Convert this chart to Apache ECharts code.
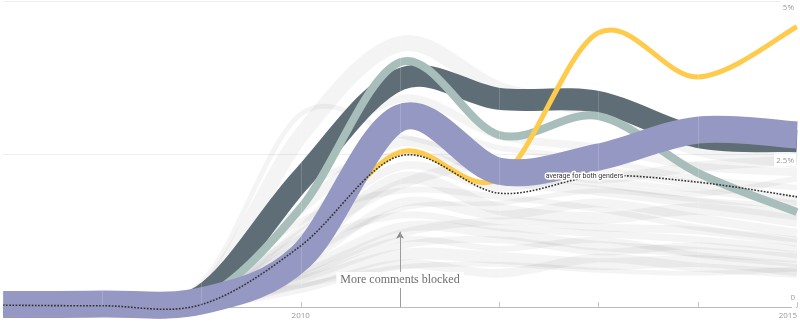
<!DOCTYPE html>
<html>
<head>
<meta charset="utf-8">
<script src="https://cdn.jsdelivr.net/npm/echarts@6/dist/echarts.min.js"></script>
<style>
  html, body { margin: 0; padding: 0; background: #fff; }
  #chart { width: 800px; height: 329px; }
</style>
</head>
<body>
<div id="chart"></div>
<script>
// Years on the x axis
const years = [2007, 2008, 2009, 2010, 2011, 2012, 2013, 2014, 2015];

// Share of comments blocked (%), highlighted groups
const darkBand   = [0.05, 0.05, 0.18, 2.08, 3.72, 3.40, 3.35, 2.78, 2.71];
const tealLine   = [0.04, 0.05, 0.12, 1.62, 4.00, 2.81, 3.12, 2.19, 1.55];
const yellowLine = [0.03, 0.03, 0.10, 0.98, 2.53, 2.10, 4.48, 3.76, 4.58];
const purpleBand = [0.04, 0.05, 0.10, 0.82, 3.09, 2.22, 2.45, 2.89, 2.81];
const average    = [0.03, 0.02, 0.04, 1.00, 2.47, 1.86, 2.14, 2.04, 1.80];

// Every other group, drawn faintly in the background
const backgroundLines = [
  [0.02, 0.03, 0.20, 2.80, 4.30, 3.55, 3.20, 2.60, 2.40],
  [0.02, 0.05, 0.40, 3.15, 2.80, 2.40, 2.10, 1.90, 1.70],
  [0.02, 0.04, 0.15, 2.20, 3.40, 2.80, 2.60, 2.30, 2.20],
  [0.02, 0.03, 0.10, 1.30, 2.90, 2.60, 2.40, 2.10, 1.95],
  [0.02, 0.03, 0.10, 1.60, 2.70, 2.10, 1.90, 1.70, 1.50],
  [0.02, 0.04, 0.15, 1.20, 2.30, 1.95, 2.20, 2.00, 1.75],
  [0.03, 0.03, 0.08, 0.90, 2.10, 1.60, 1.45, 1.60, 1.40],
  [0.02, 0.05, 0.20, 1.40, 1.90, 1.80, 1.60, 1.30, 1.10],
  [0.01, 0.02, 0.06, 0.70, 1.70, 1.50, 1.70, 1.45, 1.20],
  [0.03, 0.04, 0.12, 1.00, 1.50, 1.30, 1.20, 1.10, 0.95],
  [0.02, 0.03, 0.10, 0.60, 1.30, 1.20, 1.00, 0.90, 0.80],
  [0.02, 0.03, 0.09, 0.50, 1.10, 0.95, 1.10, 0.85, 0.70],
  [0.01, 0.02, 0.05, 0.40, 0.85, 0.80, 0.70, 0.75, 0.60],
  [0.02, 0.02, 0.06, 0.35, 0.65, 0.70, 0.60, 0.55, 0.62],
  [0.03, 0.05, 0.25, 1.90, 2.50, 2.20, 2.00, 1.85, 2.10],
  [0.02, 0.04, 0.10, 1.10, 2.00, 2.35, 2.10, 2.30, 2.40],
  [0.02, 0.03, 0.08, 0.80, 1.60, 1.70, 1.90, 1.75, 1.65],
  [0.03, 0.03, 0.07, 0.55, 1.20, 1.40, 1.30, 1.25, 1.05],
  [0.02, 0.03, 0.05, 0.45, 1.00, 1.10, 0.90, 1.00, 0.85],
  [0.01, 0.02, 0.04, 0.30, 0.70, 0.55, 0.80, 0.65, 0.55]
];
const backgroundWidths = [16, 5, 8, 6, 10, 8, 12, 6, 9, 7, 10, 6, 12, 5, 6, 10, 5, 8, 7, 9];

// Axis labels
const yTickLabels = { 5: '5%', 2.5: '2.5%', 0: '0' };
const xTickLabels = [2010, 2015];

const annotationYear = 2011;
const annotationText = 'More comments blocked';
const averageText = 'average for both genders';

const chart = echarts.init(document.getElementById('chart'), null, { renderer: 'canvas' });

// Catmull-Rom curve through pixel points, as SVG path data
function catmullRomPath(pts) {
  let d = 'M' + pts[0][0] + ' ' + pts[0][1];
  for (let i = 0; i < pts.length - 1; i++) {
    const p0 = pts[Math.max(i - 1, 0)];
    const p1 = pts[i];
    const p2 = pts[i + 1];
    const p3 = pts[Math.min(i + 2, pts.length - 1)];
    const c1x = p1[0] + (p2[0] - p0[0]) / 6;
    const c1y = p1[1] + (p2[1] - p0[1]) / 6;
    const c2x = p2[0] - (p3[0] - p1[0]) / 6;
    const c2y = p2[1] - (p3[1] - p1[1]) / 6;
    d += ' C' + c1x + ' ' + c1y + ' ' + c2x + ' ' + c2y + ' ' + p2[0] + ' ' + p2[1];
  }
  return d;
}

// One smooth curve per series, placed through the cartesian scales
function curveSeries(name, values, style) {
  return {
    type: 'custom',
    name: name,
    coordinateSystem: 'cartesian2d',
    silent: true,
    clip: false,
    data: [[years[0], values[0]]],
    renderItem: function (params, api) {
      const pts = values.map((v, i) => api.coord([years[i], v]));
      return {
        type: 'path',
        shape: { pathData: catmullRomPath(pts) },
        style: Object.assign({ fill: null, lineJoin: 'round' }, style)
      };
    }
  };
}

const series = [];
backgroundLines.forEach((vals, i) => {
  series.push(curveSeries('g' + i, vals, {
    stroke: 'rgba(0,0,0,0.042)', lineWidth: backgroundWidths[i]
  }));
});
series.push(curveSeries('dark', darkBand, { stroke: '#5f6e76', lineWidth: 22 }));
series.push(curveSeries('teal', tealLine, { stroke: '#a7bebb', lineWidth: 8 }));
series.push(curveSeries('yellow', yellowLine, { stroke: '#fecb4c', lineWidth: 5 }));
series.push(curveSeries('purple', purpleBand, { stroke: '#9598c2', lineWidth: 27 }));
series.push(curveSeries('average', average, {
  stroke: '#333', lineWidth: 1.6, lineDash: [1.7, 1.5]
}));

// Annotations: arrow for the marked year and the two text labels
series.push({
  type: 'scatter',
  name: 'notes',
  silent: true,
  data: [],
  markLine: {
    silent: true,
    symbol: ['none', 'arrow'],
    symbolSize: [6, 7],
    label: { show: false },
    lineStyle: { color: '#8a8a8a', width: 1, type: 'solid' },
    data: [[{ coord: [annotationYear, 0] }, { coord: [annotationYear, 1.23] }]]
  },
  markPoint: {
    silent: true,
    symbol: 'circle',
    symbolSize: 0,
    data: [
      {
        coord: [annotationYear, 0.44],
        label: {
          show: true, position: 'inside', formatter: annotationText,
          fontFamily: 'Liberation Serif, serif', fontSize: 12, color: '#6e6e6e',
          backgroundColor: '#fff', padding: [2, 4]
        }
      },
      {
        coord: [2012.86, 2.14],
        label: {
          show: true, position: 'inside', formatter: averageText,
          fontFamily: 'Roboto, sans-serif', fontSize: 7, color: '#333',
          textBorderColor: '#fff', textBorderWidth: 3
        }
      }
    ]
  }
});

const yScale = { type: 'value', min: 0, max: 5, interval: 2.5, position: 'right' };
const xScale = { type: 'value', min: 2007, max: 2015, interval: 1 };

chart.setOption({
  animation: false,
  backgroundColor: '#fff',
  grid: { left: -3, right: 3, top: 1, bottom: 22, containLabel: false },
  xAxis: [
    Object.assign({}, xScale, {
      axisLine: { lineStyle: { color: '#bbb', width: 1 } },
      axisTick: { inside: true, length: 5, lineStyle: { color: '#bbb' } },
      splitLine: { show: false },
      axisLabel: {
        formatter: v => (xTickLabels.includes(v) ? String(v) : ''),
        color: '#999', fontSize: 8, margin: 5,
        fontFamily: 'Open Sans, sans-serif',
        alignMaxLabel: 'right', showMinLabel: true, showMaxLabel: true
      }
    }),
    // faint year guides laid over the curves
    Object.assign({}, xScale, {
      z: 6,
      position: 'bottom',
      axisLine: { show: false }, axisTick: { show: false }, axisLabel: { show: false },
      splitLine: { show: true, lineStyle: { color: 'rgba(255,255,255,0.16)', width: 1 } }
    })
  ],
  yAxis: [
    Object.assign({}, yScale, {
      axisLine: { show: false }, axisTick: { show: false }, axisLabel: { show: false },
      splitLine: { lineStyle: { color: '#efefef', width: 1 } }
    }),
    Object.assign({}, yScale, {
      z: 10,
      axisLine: { show: false }, axisTick: { show: false }, splitLine: { show: false },
      axisLabel: {
        inside: true, margin: 1, verticalAlign: 'top',
        formatter: v => (v !== 0 ? yTickLabels[v] : ''),
        color: '#999', fontSize: 8, fontFamily: 'Open Sans, sans-serif',
        backgroundColor: '#fff', padding: [3, 2, 1, 2]
      }
    }),
    Object.assign({}, yScale, {
      z: 10,
      axisLine: { show: false }, axisTick: { show: false }, splitLine: { show: false },
      axisLabel: {
        inside: true, margin: 2, verticalAlign: 'bottom',
        formatter: v => (v === 0 ? yTickLabels[0] : ''),
        color: '#999', fontSize: 8, fontFamily: 'Open Sans, sans-serif',
        padding: [0, 0, 5, 0]
      }
    })
  ],
  series: series
});
</script>
</body>
</html>
